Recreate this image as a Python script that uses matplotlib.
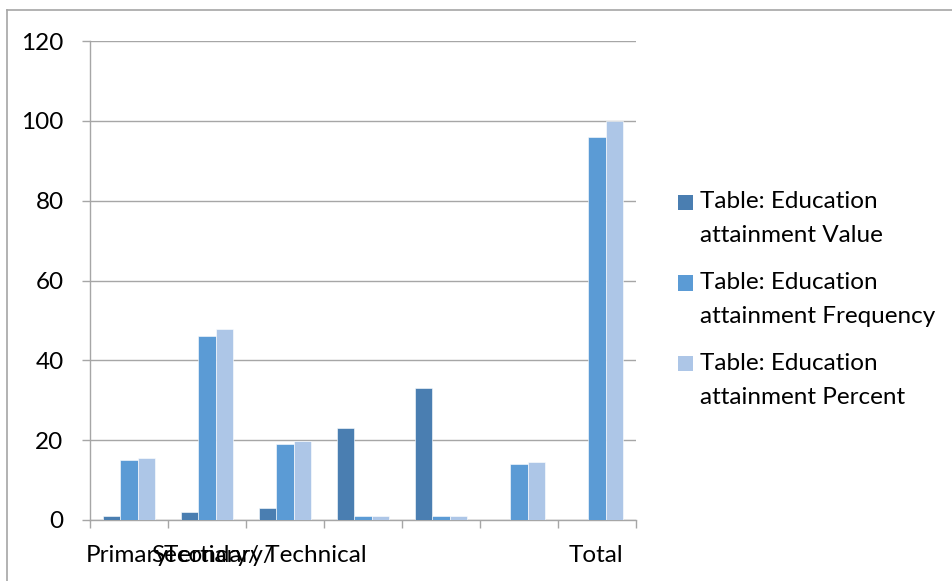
import numpy as np
import matplotlib
matplotlib.use('Agg')
import matplotlib.pyplot as plt
from matplotlib.patches import Rectangle
from matplotlib.lines import Line2D
import matplotlib.transforms as mtransforms

# data
CATEGORIES = ['Primary', 'Secondary/', 'Tertiary/ Technical', '', '', '', 'Total']
VALUE = [1, 2, 3, 23, 33, 0, 0]
FREQUENCY = [15, 46, 19, 1, 1, 14, 96]
PERCENT = [15.6, 47.9, 19.8, 1.0, 1.0, 14.6, 100.0]
SERIES_NAMES = ['Table: Education\nattainment Value',
                'Table: Education\nattainment Frequency',
                'Table: Education\nattainment Percent']

# style
COLORS = ['#4A7EB1', '#5B9BD5', '#ADC6E7']
GRID = '#A6A6A6'
FONT = 'Lato'
FS = 17.5
W, H = 953, 581
# label anchor (offset from category centre, alignment) -- mimics Excel's overlap
LABEL_ANCHOR = [(-0.56, 'left'), (-0.72, 'left'), (1.05, 'right'),
                (0, 'center'), (0, 'center'), (0, 'center'), (-0.02, 'center')]

plt.rcParams['font.family'] = [FONT, 'DejaVu Sans']

fig = plt.figure(figsize=(W / 100, H / 100), dpi=100, facecolor='white')
ax = fig.add_axes([90 / W, 1 - 520 / H, (636 - 90) / W, (520 - 41) / H])

x = np.arange(len(CATEGORIES))
w = 1 / 4.5
for k, (vals, col, name) in enumerate(zip([VALUE, FREQUENCY, PERCENT], COLORS, SERIES_NAMES)):
    ax.bar(x + (k - 1) * w, vals, width=w, color=col, edgecolor='#FFFFFF', lw=0.4,
           label=name, zorder=3)

ax.set_xlim(-0.5, len(CATEGORIES) - 0.5)
ax.set_ylim(0, 120)
ax.set_yticks(np.arange(0, 121, 20))
ax.set_xticks(np.arange(-0.5, len(CATEGORIES), 1.0))
ax.set_xticklabels([])
ax.grid(axis='y', color=GRID, lw=1.0, zorder=0)
for s in ['top', 'right']:
    ax.spines[s].set_visible(False)
for s in ['left', 'bottom']:
    ax.spines[s].set_color(GRID)
    ax.spines[s].set_linewidth(1.0)
ax.tick_params(axis='both', color=GRID, length=6, width=1.0, direction='out')
ax.tick_params(axis='y', labelsize=FS, pad=13, labelcolor='black')

trans = mtransforms.blended_transform_factory(ax.transData, ax.transAxes)
for i, (lab, (off, ha)) in enumerate(zip(CATEGORIES, LABEL_ANCHOR)):
    if lab:
        ax.text(i + off, -0.075, lab, transform=trans, ha=ha, va='center',
                fontsize=FS, color='black')

# legend, Excel style: square aligned with the first line of a wrapped label
for k, (col, name) in enumerate(zip(COLORS, SERIES_NAMES)):
    top = 195 + 80.5 * k
    fig.add_artist(Rectangle((678 / W, 1 - (top + 15) / H), 15 / W, 15 / H,
                             facecolor=col, edgecolor='none', transform=fig.transFigure))
    for j, line in enumerate(name.split('\n')):
        fig.text(700 / W, 1 - (top + 7 + 34 * j) / H, line, ha='left', va='center',
                 fontsize=FS, color='black')

# outer chart border (top and left visible)
fig.add_artist(Line2D([7 / W, 1], [1 - 10 / H, 1 - 10 / H], color=GRID, lw=1.2,
                      transform=fig.transFigure))
fig.add_artist(Line2D([7 / W, 7 / W], [0, 1 - 10 / H], color=GRID, lw=1.2,
                      transform=fig.transFigure))

fig.savefig('out.png', dpi=100, facecolor='white')
